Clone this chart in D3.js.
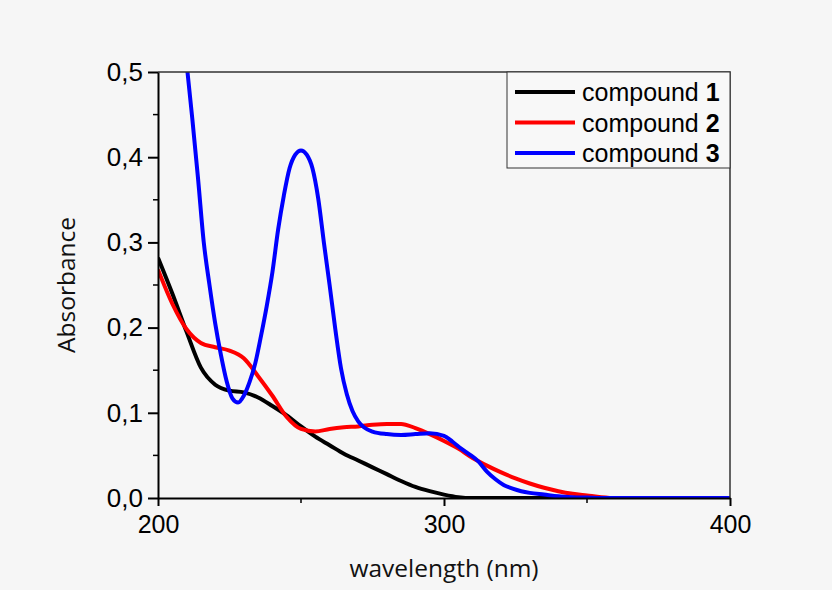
<!DOCTYPE html>
<html>
<head>
<meta charset="utf-8">
<script src="https://cdn.jsdelivr.net/npm/d3@7"></script>
<style>
  body { margin: 0; background: #f6f6f6; }
  svg { display: block; }
</style>
</head>
<body>
<div id="chart"></div>
<script>
// wavelength (nm) / absorbance
var wl1 = [200, 205, 210, 215, 220, 225, 230, 235, 240, 245, 250, 255, 260, 265, 270, 275, 280, 285, 290, 295, 300, 305, 310, 320, 340, 360, 380, 400]
var abs1 = [0.282, 0.24, 0.195, 0.153, 0.133, 0.126, 0.124, 0.118, 0.108, 0.097, 0.084, 0.072, 0.062, 0.052, 0.044, 0.036, 0.028, 0.020, 0.013, 0.008, 0.004, 0.001, 0, 0, 0, 0, 0, 0]

var wl2 = [200, 205, 210, 215, 220, 225, 230, 235, 240, 245, 250, 255, 260, 265, 270, 275, 280, 285, 290, 295, 300, 305, 310, 315, 320, 325, 330, 335, 340, 345, 350, 355, 360, 380, 400]
var abs2 = [0.268, 0.228, 0.198, 0.182, 0.177, 0.173, 0.164, 0.143, 0.120, 0.095, 0.081, 0.078, 0.081, 0.083, 0.084, 0.086, 0.087, 0.087, 0.082, 0.075, 0.067, 0.058, 0.047, 0.038, 0.030, 0.023, 0.017, 0.012, 0.008, 0.005, 0.003, 0.001, 0, 0, 0]

var wl3 = [200, 203, 206, 208, 210, 212, 214, 216, 218, 220, 222, 224, 226, 228, 230, 232, 234, 236, 238, 240, 242, 244, 246, 248, 250, 252, 254, 256, 258, 260, 262, 264, 266, 268, 270, 272, 275, 280, 285, 290, 295, 300, 303, 306, 309, 312, 315, 318, 321, 324, 327, 330, 335, 340, 345, 350, 355, 380, 400]
var abs3 = [0.80, 0.72, 0.63, 0.57, 0.51, 0.445, 0.375, 0.30, 0.25, 0.205, 0.168, 0.137, 0.117, 0.112, 0.12, 0.136, 0.158, 0.19, 0.225, 0.265, 0.315, 0.355, 0.387, 0.403, 0.408, 0.403, 0.387, 0.352, 0.30, 0.25, 0.198, 0.152, 0.122, 0.102, 0.090, 0.083, 0.078, 0.075, 0.074, 0.075, 0.076, 0.073, 0.066, 0.058, 0.051, 0.043, 0.031, 0.022, 0.015, 0.011, 0.008, 0.006, 0.004, 0.002, 0.001, 0.0005, 0, 0, 0]

var seriesNames = ["1", "2", "3"]
var seriesColors = ["#000000", "#ff0000", "#0000ff"]
var xTicks = [200, 300, 400]
var xMinor = [250, 350]
var yTicks = [0, 0.1, 0.2, 0.3, 0.4, 0.5]
var yMinor = [0.05, 0.15, 0.25, 0.35, 0.45]

var width = 832, height = 590
var pLeft = 158, pRight = 730, pTop = 72, pBottom = 498

var x = d3.scaleLinear().domain([200, 400]).range([pLeft, pRight])
var y = d3.scaleLinear().domain([0, 0.5]).range([pBottom, pTop])

var svg = d3.select("#chart")
    .append("svg")
    .attr("width", width)
    .attr("height", height)

svg.append("rect")
    .attr("width", width)
    .attr("height", height)
    .attr("fill", "#f6f6f6")

svg.append("clipPath")
    .attr("id", "clip")
    .append("rect")
    .attr("x", pLeft)
    .attr("y", pTop)
    .attr("width", pRight - pLeft)
    .attr("height", pBottom - pTop)

var line = d3.line()
    .x(function (d) { return x(d[0]) })
    .y(function (d) { return y(d[1]) })
    .curve(d3.curveMonotoneX)

var series = [d3.zip(wl1, abs1), d3.zip(wl2, abs2), d3.zip(wl3, abs3)]

var plot = svg.append("g").attr("clip-path", "url(#clip)")
series.forEach(function (s, i) {
    plot.append("path")
        .attr("d", line(s))
        .attr("fill", "none")
        .attr("stroke", seriesColors[i])
        .attr("stroke-width", 4)
        .attr("stroke-linejoin", "round")
})

// frame: top and right
svg.append("path")
    .attr("d", "M" + pLeft + "," + pTop + "H" + pRight + "V" + pBottom)
    .attr("fill", "none")
    .attr("stroke", "#333")
    .attr("stroke-width", 1.5)

var tickFont = "'Liberation Sans', Arial, sans-serif"

// X axis
var xAxis = svg.append("g")
    .attr("transform", "translate(0," + pBottom + ")")
    .call(d3.axisBottom(x).tickValues(xTicks).tickSize(8).tickPadding(9).tickSizeOuter(0))
xAxis.select(".domain").attr("stroke", "#000").attr("stroke-width", 2)
xAxis.selectAll("line").attr("stroke", "#000").attr("stroke-width", 2)
xAxis.selectAll("text").attr("font-family", tickFont).attr("font-size", 25).attr("fill", "#000")
xAxis.selectAll(".minor")
    .data(xMinor)
    .enter().append("line")
    .attr("x1", function (d) { return x(d) })
    .attr("x2", function (d) { return x(d) })
    .attr("y1", 0).attr("y2", 5)
    .attr("stroke", "#000").attr("stroke-width", 1.5)

// Y axis
var yAxis = svg.append("g")
    .attr("transform", "translate(" + pLeft + ",0)")
    .call(d3.axisLeft(y).tickValues(yTicks).tickSize(10).tickPadding(5).tickSizeOuter(0)
        .tickFormat(function (d) { return d3.format(".1f")(d).replace(".", ",") }))
yAxis.select(".domain").attr("stroke", "#000").attr("stroke-width", 2)
yAxis.selectAll("line").attr("stroke", "#000").attr("stroke-width", 2)
yAxis.selectAll("text").attr("font-family", tickFont).attr("font-size", 26).attr("fill", "#000")
yAxis.selectAll(".minor")
    .data(yMinor)
    .enter().append("line")
    .attr("y1", function (d) { return y(d) })
    .attr("y2", function (d) { return y(d) })
    .attr("x1", 0).attr("x2", -5)
    .attr("stroke", "#000").attr("stroke-width", 1.5)

// axis titles
var titleFont = "'Open Sans', 'DejaVu Sans', sans-serif"
svg.append("text")
    .attr("x", (pLeft + pRight) / 2)
    .attr("y", 577)
    .attr("text-anchor", "middle")
    .attr("font-family", titleFont)
    .attr("font-size", 24.5)
    .attr("fill", "#111")
    .text("wavelength (nm)")

svg.append("text")
    .attr("transform", "translate(75," + ((pTop + pBottom) / 2) + ") rotate(-90)")
    .attr("text-anchor", "middle")
    .attr("font-family", titleFont)
    .attr("font-size", 24.5)
    .attr("fill", "#111")
    .text("Absorbance")

// legend
var legend = svg.append("g")
legend.append("rect")
    .attr("x", 507).attr("y", pTop)
    .attr("width", pRight - 507).attr("height", 96)
    .attr("fill", "#f8f8f8")
    .attr("stroke", "#333").attr("stroke-width", 1)

seriesNames.forEach(function (name, i) {
    var ly = 92 + i * 30.5
    legend.append("line")
        .attr("x1", 515).attr("x2", 575)
        .attr("y1", ly).attr("y2", ly)
        .attr("stroke", seriesColors[i]).attr("stroke-width", 4)
    var t = legend.append("text")
        .attr("x", 582).attr("y", ly + 9)
        .attr("font-family", tickFont)
        .attr("font-size", 25)
        .attr("fill", "#000")
    t.append("tspan").text("compound ")
    t.append("tspan").attr("font-weight", "bold").text(name)
})
</script>
</body>
</html>
